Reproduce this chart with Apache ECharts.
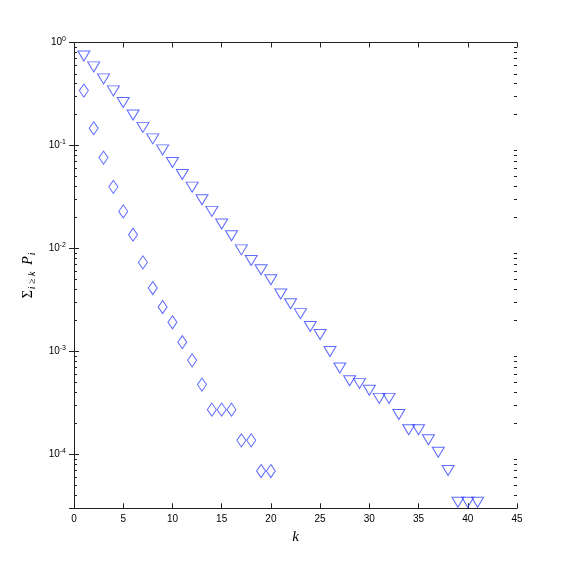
<!DOCTYPE html>
<html>
<head>
<meta charset="utf-8">
<script src="https://cdn.jsdelivr.net/npm/echarts@6/dist/echarts.min.js"></script>
<style>html,body{margin:0;padding:0;background:#fff}#c{width:572px;height:572px}</style>
</head>
<body>
<div id="c"></div>
<script>
// Data
const kTri = [1,2,3,4,5,6,7,8,9,10,11,12,13,14,15,16,17,18,19,20,21,22,23,24,25,26,27,28,29,30,31,32,33,34,35,36,37,38,39,40,41];
const vTri = [0.74,0.58,0.443,0.339,0.261,0.198,0.150,0.116,0.0906,0.0683,0.0522,0.0394,0.0297,0.0229,0.0173,0.0133,0.0097,0.00765,0.00621,0.00497,0.00361,0.00291,0.00233,0.00175,0.00146,0.00100,0.00069,0.00052,0.00049,0.00042,0.00035,0.00035,0.000244,0.000174,0.000174,0.000139,0.000105,0.0000698,0.0000344,0.0000344,0.0000344];
const kDia = [1,2,3,4,5,6,7,8,9,10,11,12,13,14,15,16,17,18,19,20];
const vDia = [0.341,0.147,0.0763,0.0397,0.0229,0.0136,0.00732,0.00413,0.0027,0.00192,0.00123,0.00082,0.000477,0.000272,0.000272,0.000272,0.000137,0.000137,0.0000690,0.0000690];
const yMin = 3e-5, yMax = 1;
// minor log ticks (2..9 x 10^e)
const minorTicks = [];
for (let e = -5; e <= -1; e++) for (let m = 2; m <= 9; m++) { const v = m * Math.pow(10, e); if (v > yMin * 1.01 && v < yMax) minorTicks.push(v); }

const axisColor = '#222';
const blue = '#3344ff';
const chart = echarts.init(document.getElementById('c'), null, {renderer: 'canvas'});
const supFmt = function (v) {
  const e = Math.log10(v);
  if (Math.abs(e - Math.round(e)) > 1e-6) return '';
  return '{b|10}{s|' + Math.round(e) + '}';
};
function tickSeries(xVal, dir) {
  return {
    type: 'custom', xAxisIndex: 0, yAxisIndex: 0, silent: true, clip: false, z: 10,
    data: minorTicks.map(v => [xVal, v]),
    renderItem: function (params, api) {
      const p = api.coord([xVal, api.value(1)]);
      const y = Math.round(p[1]);
      const x = Math.round(p[0]);
      return {type: 'rect', shape: {x: dir > 0 ? x : x - 3, y: y, width: 3, height: 1}, style: {fill: axisColor}};
    }
  };
}
chart.setOption({
  backgroundColor: '#fff',
  animation: false,
  grid: {left: 74, right: 55, top: 42.5, bottom: 63.7, containLabel: false},
  xAxis: [{
    type: 'value', min: 0, max: 45, interval: 5,
    name: 'k', nameLocation: 'middle', nameGap: 20,
    nameTextStyle: {fontFamily: 'Liberation Serif', fontStyle: 'italic', fontSize: 15, color: '#000'},
    axisLine: {show: true, lineStyle: {color: axisColor, width: 1}},
    axisTick: {show: true, inside: true, length: 5, lineStyle: {color: axisColor}},
    axisLabel: {color: '#000', fontFamily: 'Liberation Sans', fontSize: 10, margin: 6},
    splitLine: {show: false}
  }, {
    type: 'value', position: 'top', min: 0, max: 45, interval: 5,
    axisLine: {show: true, lineStyle: {color: axisColor, width: 1}},
    axisTick: {show: true, inside: true, length: 5, lineStyle: {color: axisColor}},
    axisLabel: {show: false}, splitLine: {show: false}
  }],
  yAxis: [{
    type: 'log', logBase: 10, min: yMin, max: yMax,
    name: '{S|Σ}{sub|i ≥ k}  {P|P}{sub|i}', nameLocation: 'middle', nameGap: 28, nameRotate: 90,
    nameTextStyle: {
      color: '#000',
      rich: {
        S: {fontFamily: 'Liberation Serif', fontSize: 14, color: '#000'},
        P: {fontFamily: 'Liberation Serif', fontStyle: 'italic', fontSize: 14, color: '#000'},
        sub: {fontFamily: 'Liberation Serif', fontStyle: 'italic', fontSize: 10, color: '#000', padding: [8, 0, 0, 1]}
      }
    },
    axisLine: {show: true, lineStyle: {color: axisColor, width: 1}},
    axisTick: {show: true, inside: true, length: 5, lineStyle: {color: axisColor}},
    axisLabel: {
      color: '#000', margin: 8, showMinLabel: false, formatter: supFmt,
      rich: {
        b: {fontFamily: 'Liberation Sans', fontSize: 10, color: '#000'},
        s: {fontFamily: 'Liberation Sans', fontSize: 7, color: '#000', padding: [0, 0, 7, 0]}
      }
    },
    splitLine: {show: false}, minorTick: {show: false}
  }, {
    type: 'log', logBase: 10, min: yMin, max: yMax, position: 'right',
    axisLine: {show: true, lineStyle: {color: axisColor, width: 1}},
    axisTick: {show: true, inside: true, length: 5, lineStyle: {color: axisColor}},
    axisLabel: {show: false}, splitLine: {show: false}
  }],
  series: [
    tickSeries(0, 1),
    tickSeries(45, -1),
  {
    type: 'scatter', xAxisIndex: 0, yAxisIndex: 0,
    data: kTri.map((k, i) => [k, vTri[i]]),
    symbol: 'triangle', symbolRotate: 180, symbolSize: [12, 10],
    itemStyle: {color: 'rgba(0,0,0,0)', borderColor: blue, borderWidth: 1}
  }, {
    type: 'scatter', xAxisIndex: 0, yAxisIndex: 0,
    data: kDia.map((k, i) => [k, vDia[i]]),
    symbol: 'diamond', symbolSize: [9, 13],
    itemStyle: {color: 'rgba(0,0,0,0)', borderColor: blue, borderWidth: 1}
  }]
});
</script>
</body>
</html>
